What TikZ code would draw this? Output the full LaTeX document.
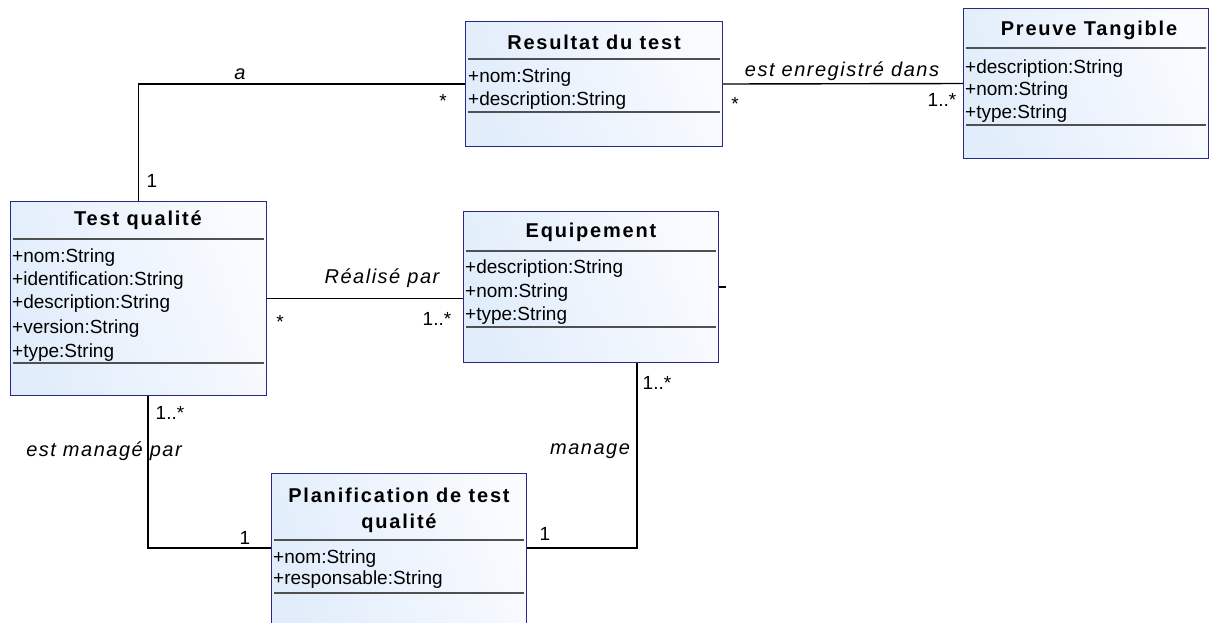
\documentclass[tikz,border=0pt]{standalone}
\usepackage{fontspec}
\setmainfont{Liberation Sans}
\newfontfamily\titlefont[LetterSpace=9]{Liberation Sans}
\newfontfamily\labelfont[LetterSpace=7.5]{Liberation Sans}
\usetikzlibrary{calc}

\definecolor{clsedge}{RGB}{40,40,140}
\definecolor{clsfillA}{RGB}{225,237,251}
\definecolor{clsfillB}{RGB}{249,251,255}
\definecolor{sepgray}{RGB}{80,80,80}

\tikzset{
  cls/.style={draw=clsedge, line width=1pt, left color=clsfillA, right color=clsfillB,
    shading angle=110, inner sep=0pt, anchor=north west},
  sep/.style={draw=sepgray, line width=1.2pt},
  conn/.style={draw=black, line width=1.4pt},
  ctitle/.style={inner sep=0pt, font=\titlefont\bfseries\fontsize{20}{23}\selectfont},
  attr/.style={anchor=west, inner sep=0pt, text height=13pt, text depth=0pt,
    font=\fontsize{19}{22}\selectfont},
  rolelabel/.style={inner sep=0pt, text height=13pt, text depth=0pt,
    font=\labelfont\itshape\fontsize{20}{23}\selectfont},
  mult/.style={inner sep=0pt, anchor=base, font=\fontsize{19}{22}\selectfont},
}

\begin{document}
\begin{tikzpicture}[x=1pt, y=-1pt]
\useasboundingbox[fill=white] (0,0) rectangle (1211,622);

% ---- classes ----
\node[cls, minimum width=257pt, minimum height=125pt] (res) at (465,21) {};
\node[cls, minimum width=245pt, minimum height=150pt] (prv) at (963,8) {};
\node[cls, minimum width=256pt, minimum height=194pt] (tq) at (10,201) {};
\node[cls, minimum width=255pt, minimum height=151pt] (eq) at (463,211) {};
\node[cls, minimum width=255pt, minimum height=160pt] (pl) at (271,473) {};

% compartment separators
\foreach \c/\a/\b in {res/38/91, prv/40/117, tq/38/162, eq/40/116, pl/67/120}{
  \draw[sep] ($(\c.north west)+(3,\a)$) -- ($(\c.north east)+(-3,\a)$);
  \draw[sep] ($(\c.north west)+(3,\b)$) -- ($(\c.north east)+(-3,\b)$);
}

% titles
\node[ctitle] (resT) at (594,42) {Resultat du test};
\node[ctitle] (prvT) at (1089,30) {Preuve Tangible};
\node[ctitle] (tqT) at (138,220) {Test qualité};
\node[ctitle] (eqT) at (591,232) {Equipement};
\node[ctitle] (plT1) at (399,495) {Planification de test};
\node[ctitle] (plT2) at (399,523) {qualité};

% attributes
\node[attr] (resA1) at (468,76) {+nom:String};
\node[attr] (resA2) at (468,99) {+description:String};

\node[attr] (prvA1) at (965,67) {+description:String};
\node[attr] (prvA2) at (965,89) {+nom:String};
\node[attr] (prvA3) at (965,112) {+type:String};

\node[attr] (tqA1) at (12,256) {+nom:String};
\node[attr] (tqA2) at (12,279) {+identification:String};
\node[attr] (tqA3) at (12,302) {+description:String};
\node[attr] (tqA4) at (12,327) {+version:String};
\node[attr] (tqA5) at (12,351) {+type:String};

\node[attr] (eqA1) at (465,267) {+description:String};
\node[attr] (eqA2) at (465,291) {+nom:String};
\node[attr] (eqA3) at (465,314) {+type:String};

\node[attr] (plA1) at (273,557) {+nom:String};
\node[attr] (plA2) at (273,578) {+responsable:String};

% ---- associations ----
\draw[conn] (tq.north) |- (res.west);
\draw[conn] (res.east) -- (prv.west);
\draw[conn] (tq.east) -- (tq.east -| eq.west);
\coordinate (eqStub) at ($(eq.east)+(7,0)$);
\draw[conn] (eq.east) -- (eqStub);
\coordinate (tqLow) at ($(tq.south west)+(138,0)$);
\coordinate (plL) at ($(pl.north west)+(0,75)$);
\draw[conn] (tqLow) |- (plL);
\coordinate (eqLow) at ($(eq.south west)+(174,0)$);
\coordinate (plR) at ($(pl.north east)+(0,75)$);
\draw[conn] (eqLow) |- (plR);

% role names
\node[rolelabel] (la) at (240,73) {a};
\node[rolelabel] (lb) at (842,70) {est enregistré dans};
\node[rolelabel] (lc) at (382,277) {Réalisé par};
\node[rolelabel] (ld) at (104,450) {est managé par};
\node[rolelabel] (le) at (590,448) {manage};

% multiplicities
\node[mult] (m1) at (443,107) {*};
\node[mult] (m2) at (152,187) {1};
\node[mult] (m3) at (735,110) {*};
\node[mult] (m4) at (942,106) {1..*};
\node[mult] (m5) at (280,328) {*};
\node[mult] (m6) at (437,325) {1..*};
\node[mult] (m7) at (170,419) {1..*};
\node[mult] (m8) at (245,544) {1};
\node[mult] (m9) at (657,389) {1..*};
\node[mult] (m10) at (545,540) {1};
\end{tikzpicture}
\end{document}
